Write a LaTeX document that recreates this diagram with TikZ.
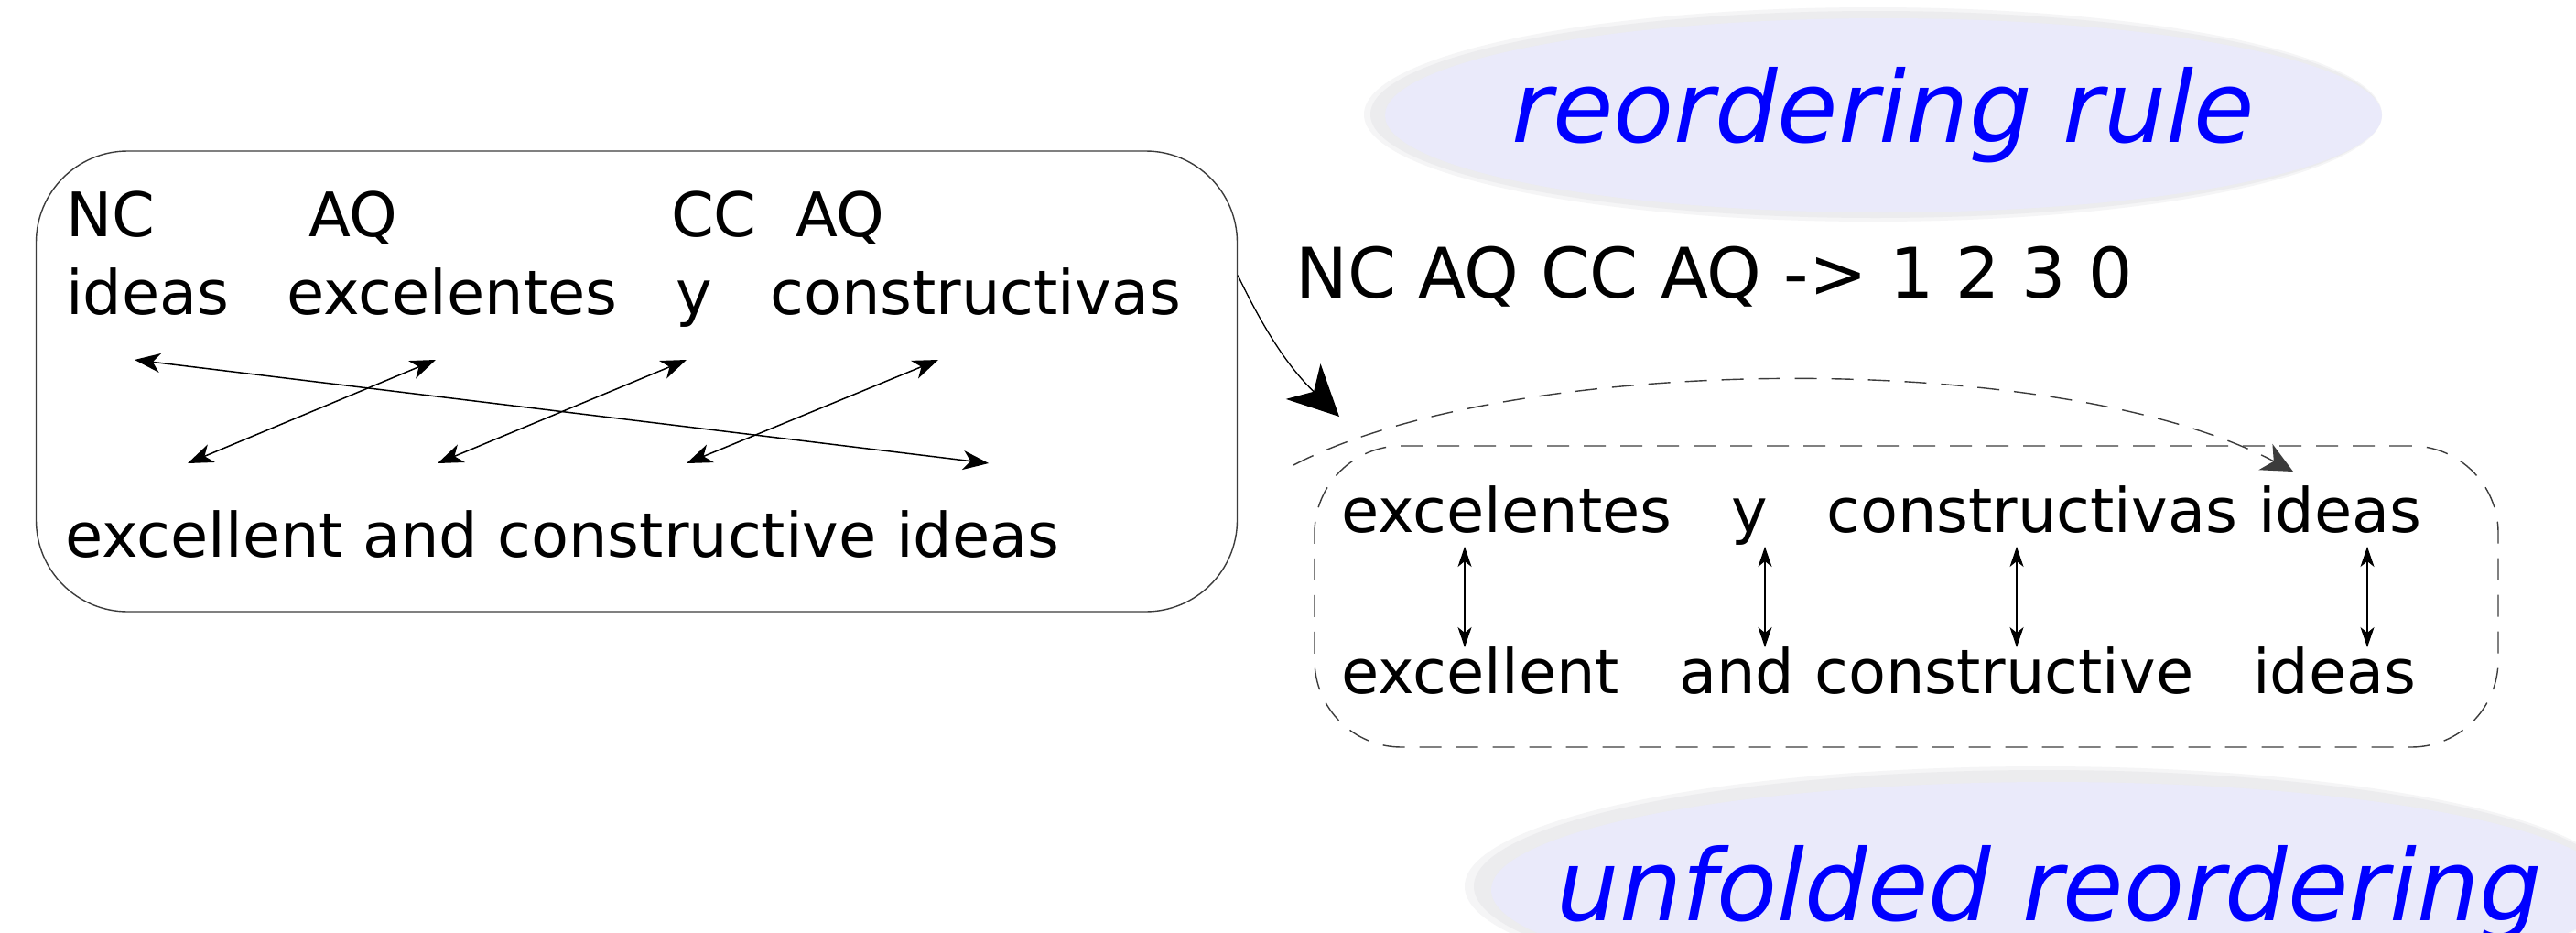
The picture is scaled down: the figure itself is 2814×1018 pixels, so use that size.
\documentclass[tikz,border=0pt]{standalone}
\usepackage{fontspec}
\setmainfont{DejaVu Sans}
\usetikzlibrary{arrows.meta,shapes.geometric}
\definecolor{lav}{RGB}{234,234,250}
\definecolor{haze}{RGB}{236,236,238}
\definecolor{hazeout}{RGB}{245,245,246}
\definecolor{labelblue}{RGB}{0,0,255}
\definecolor{edge}{RGB}{60,60,60}

\tikzset{
  word/.style={anchor=base west, inner sep=0pt, font=\fontsize{67}{72}\selectfont},
  ruletext/.style={anchor=base west, inner sep=0pt, font=\fontsize{76}{80}\selectfont},
  bubble/.style={ellipse, fill=lav, inner sep=0pt},
  bubbletext/.style={inner sep=0pt, text=labelblue,
    font=\fontsize{108}{120}\selectfont\itshape},
  link/.style={line width=1.5pt,
    {Stealth[length=28pt,width=21pt,inset=8pt]}-{Stealth[length=28pt,width=21pt,inset=8pt]}},
  vlink/.style={line width=1.1pt,
    {Stealth[length=22pt,width=15pt,inset=6pt]}-{Stealth[length=22pt,width=15pt,inset=6pt]}},
  dashline/.style={draw=edge, line width=1.4pt, dash pattern=on 24pt off 16pt},
}

\begin{document}
\begin{tikzpicture}[x=1pt,y=-1pt]
\useasboundingbox (0,0) rectangle (2814,1018);
\clip (0,0) rectangle (2814,1018);
\fill[white] (0,0) rectangle (2814,1018);

% label bubbles with a soft grey shadow
\fill[hazeout] (2046,125) ellipse [x radius=556, y radius=117];
\fill[haze] (2049,125) ellipse [x radius=552, y radius=113];
\node[bubble, minimum width=1089pt, minimum height=212pt] (rulelabel) at (2057.5,126) {};
\node[bubbletext] (ruletitle) at (rulelabel.center) {reordering rule};

\fill[hazeout] (2229,968) ellipse [x radius=629, y radius=131];
\fill[haze] (2233,968) ellipse [x radius=623, y radius=127];
\node[bubble, minimum width=1226pt, minimum height=236pt] (unfoldlabel) at (2242,972) {};
\node[bubbletext] (unfoldtitle) at ([yshift=-4pt,xshift=-3pt]unfoldlabel.center) {unfolded reordering};

% source sentence with tags
\node[draw=edge, line width=1.4pt, rounded corners=100pt,
      minimum width=1312pt, minimum height=503pt] (leftbox) at (695.5,416.5) {};
\node[word] (tNC)  at (72,258)  {NC};
\node[word] (tAQa) at (337,258) {AQ};
\node[word] (tCC)  at (733,258) {CC};
\node[word] (tAQb) at (869,258) {AQ};
\node[word] (sIdeas) at (72,343)  {ideas};
\node[word] (sExc)   at (313,343) {excelentes};
\node[word] (sY)     at (738,343) {y};
\node[word] (sCons)  at (841,343) {constructivas};
\node[word] (tEng)   at (71,608)  {excellent and constructive ideas};

% word alignment links
\coordinate (a1s) at (147,393);  \coordinate (a1t) at (1080,506);
\coordinate (a2s) at (476,393);  \coordinate (a2t) at (205,506);
\coordinate (a3s) at (750,393);  \coordinate (a3t) at (478,506);
\coordinate (a4s) at (1025,393); \coordinate (a4t) at (750,506);
\draw[link] (a1s) -- (a1t);
\draw[link] (a2s) -- (a2t);
\draw[link] (a3s) -- (a3t);
\draw[link] (a4s) -- (a4t);

% the rule
\node[ruletext] (rule) at (1415,325) {NC AQ CC AQ -> 1 2 3 0};
\coordinate (ruletip) at (1463,455);
\draw[line width=1.3pt, -{Stealth[length=55pt,width=54pt,inset=16pt]}]
  (leftbox.10.7) to[bend right=10] (ruletip);

% unfolded reordering
\node[dashline, rounded corners=95pt, minimum width=1293pt, minimum height=329pt] (unfolded) at (2082.5,651.5) {};
\coordinate (foldstart) at (1413,508);
\coordinate (foldend) at (2505,515);
\draw[dashline, -{Stealth[length=34pt,width=32pt,inset=10pt]}]
  (foldstart) .. controls (1650,385) and (2250,380) .. (foldend);

\node[word] (rExc)  at (1465,581) {excelentes};
\node[word] (rY)    at (1891,581) {y};
\node[word] (rCons) at (1995,581) {constructivas};
\node[word] (rIdeas) at (2467,581) {ideas};
\node[word] (eExc)  at (1465,757) {excellent};
\node[word] (eAnd)  at (1834,757) {and};
\node[word] (eCons) at (1982,757) {constructive};
\node[word] (eIdeas) at (2461,757) {ideas};

\coordinate (v1t) at (1600,597); \coordinate (v1b) at (1600,707);
\coordinate (v2t) at (1928,597); \coordinate (v2b) at (1928,707);
\coordinate (v3t) at (2203,597); \coordinate (v3b) at (2203,707);
\coordinate (v4t) at (2586,597); \coordinate (v4b) at (2586,707);
\draw[vlink] (v1t) -- (v1b);
\draw[vlink] (v2t) -- (v2b);
\draw[vlink] (v3t) -- (v3b);
\draw[vlink] (v4t) -- (v4b);
\end{tikzpicture}
\end{document}
